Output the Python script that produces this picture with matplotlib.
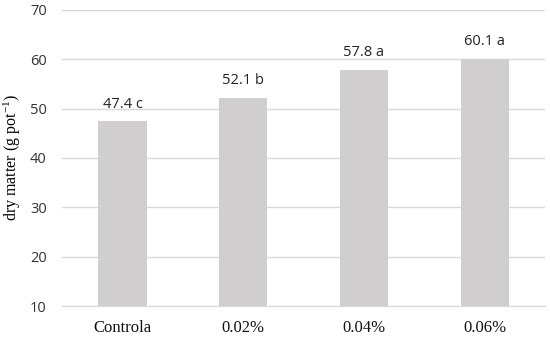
import matplotlib
matplotlib.use("Agg")
import matplotlib.pyplot as plt

plt.rcParams["mathtext.fontset"] = "custom"
plt.rcParams["mathtext.rm"] = "Liberation Serif"
plt.rcParams["mathtext.it"] = "Liberation Serif:italic"
plt.rcParams["mathtext.default"] = "rm"

categories = ["Controla", "0.02%", "0.04%", "0.06%"]
values = [47.4, 52.1, 57.8, 60.1]
letters = ["c", "b", "a", "a"]
yticks = [10, 20, 30, 40, 50, 60, 70]

fig = plt.figure(figsize=(5.5, 3.4), dpi=100)
ax = fig.add_axes([0.113, 0.1, 0.878, 0.871])
x = range(len(categories))
ax.bar(x, [v - 10 for v in values], bottom=10, width=0.4, color="#D0CECE", zorder=2)
for xi, v, l in zip(x, values, letters):
    ax.text(xi, v + 2.0, f"{v} {l}", ha="center", va="bottom",
            fontsize=10.5, family="Open Sans", color="#222222")
ax.set_ylim(10, 70)
ax.set_xlim(-0.5, 3.5)
ax.set_yticks(yticks)
ax.set_yticklabels([str(t) for t in yticks], family="Open Sans", fontsize=10.5, color="#333333")
ax.set_xticks(list(x))
ax.set_xticklabels(categories, family="Liberation Serif", fontsize=12, color="#111111")
ax.grid(axis="y", color="#D9D9D9", linewidth=1, zorder=0)
for s in ["top", "right", "left"]:
    ax.spines[s].set_visible(False)
ax.spines["bottom"].set_color("#D9D9D9")
ax.tick_params(axis="both", length=0)
ax.tick_params(axis="x", pad=10)
ax.tick_params(axis="y", pad=11)
ax.set_ylabel("dry matter (g pot$^{-1}$)", family="Liberation Serif", fontsize=11.5, labelpad=5)
fig.savefig("out.png", dpi=100)
